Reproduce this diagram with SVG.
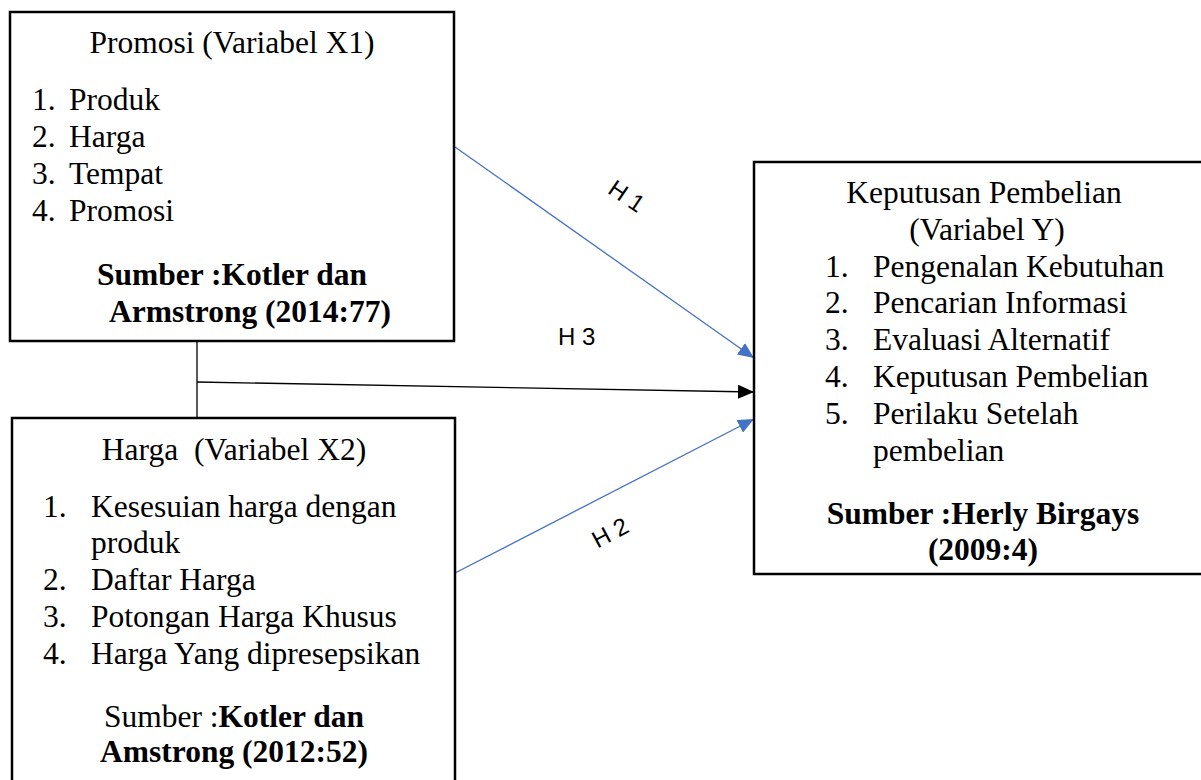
<svg xmlns="http://www.w3.org/2000/svg" width="1201" height="780" viewBox="0 0 1201 780">
<style>
.box{fill:#fff;stroke:#000;stroke-width:2.5}
.t{font-family:"Liberation Serif","Times New Roman",serif;font-size:31.5px;fill:#000}
.b{font-weight:bold}
.m{text-anchor:middle}
.h{font-family:"Liberation Sans",Arial,sans-serif;font-size:24px;fill:#000}
.blue{stroke:#4472C4;stroke-width:1.3;fill:none}
.blk{stroke:#000;stroke-width:1.3;fill:none}
</style>
<defs>
<marker id="ab" markerUnits="userSpaceOnUse" markerWidth="16" markerHeight="14" viewBox="0 0 16 14" refX="16" refY="7" orient="auto"><path d="M0,0 L16,7 L0,14 Z" fill="#4472C4"/></marker>
<marker id="ak" markerUnits="userSpaceOnUse" markerWidth="16" markerHeight="14" viewBox="0 0 16 14" refX="16" refY="7" orient="auto"><path d="M0,0 L16,7 L0,14 Z" fill="#000"/></marker>
</defs>
<rect width="1201" height="780" fill="#fff"/>
<g id="connectors">
<line class="blk" x1="197" y1="341" x2="197" y2="418"/>
<line class="blk" x1="197" y1="382" x2="754" y2="392" marker-end="url(#ak)"/>
<line class="blue" x1="455" y1="147" x2="754" y2="358" marker-end="url(#ab)"/>
<line class="blue" x1="455" y1="573" x2="754" y2="419" marker-end="url(#ab)"/>
<text class="h" text-anchor="middle" transform="translate(622,203) rotate(34)">H 1</text>
<text class="h" x="558" y="345">H 3</text>
<text class="h" text-anchor="middle" transform="translate(614,540) rotate(-28)">H 2</text>
</g>
<g id="node-x1">
<rect class="box" x="10" y="12" width="444" height="329"/>
<text class="t m" x="232" y="53">Promosi (Variabel X1)</text>
<text class="t" x="32" y="110">1.</text><text class="t" x="69" y="110">Produk</text>
<text class="t" x="32" y="147">2.</text><text class="t" x="69" y="147">Harga</text>
<text class="t" x="32" y="184">3.</text><text class="t" x="69" y="184">Tempat</text>
<text class="t" x="32" y="221">4.</text><text class="t" x="69" y="221">Promosi</text>
<text class="t b m" x="232" y="285">Sumber :Kotler dan</text>
<text class="t b m" x="250" y="322">Armstrong (2014:77)</text>
</g>
<g id="node-x2">
<rect class="box" x="12" y="418" width="443" height="400"/>
<text class="t m" x="234" y="460" xml:space="preserve">Harga  (Variabel X2)</text>
<text class="t" x="43" y="517">1.</text><text class="t" x="91" y="517">Kesesuian harga dengan</text>
<text class="t" x="91" y="553">produk</text>
<text class="t" x="43" y="590">2.</text><text class="t" x="91" y="590">Daftar Harga</text>
<text class="t" x="43" y="627">3.</text><text class="t" x="91" y="627">Potongan Harga Khusus</text>
<text class="t" x="43" y="664">4.</text><text class="t" x="91" y="664">Harga Yang dipresepsikan</text>
<text class="t m" x="234" y="727">Sumber :<tspan class="b">Kotler dan</tspan></text>
<text class="t b m" x="234" y="762">Amstrong (2012:52)</text>
</g>
<g id="node-y">
<rect class="box" x="754" y="162" width="460" height="412"/>
<text class="t m" x="984" y="203">Keputusan Pembelian</text>
<text class="t m" x="987" y="240">(Variabel Y)</text>
<text class="t" x="825" y="277">1.</text><text class="t" x="873" y="277">Pengenalan Kebutuhan</text>
<text class="t" x="825" y="313">2.</text><text class="t" x="873" y="313">Pencarian Informasi</text>
<text class="t" x="825" y="350">3.</text><text class="t" x="873" y="350">Evaluasi Alternatif</text>
<text class="t" x="825" y="387">4.</text><text class="t" x="873" y="387">Keputusan Pembelian</text>
<text class="t" x="825" y="424">5.</text><text class="t" x="873" y="424">Perilaku Setelah</text>
<text class="t" x="873" y="461">pembelian</text>
<text class="t b m" x="983" y="524">Sumber :Herly Birgays</text>
<text class="t b m" x="983" y="560">(2009:4)</text>
</g>
</svg>
